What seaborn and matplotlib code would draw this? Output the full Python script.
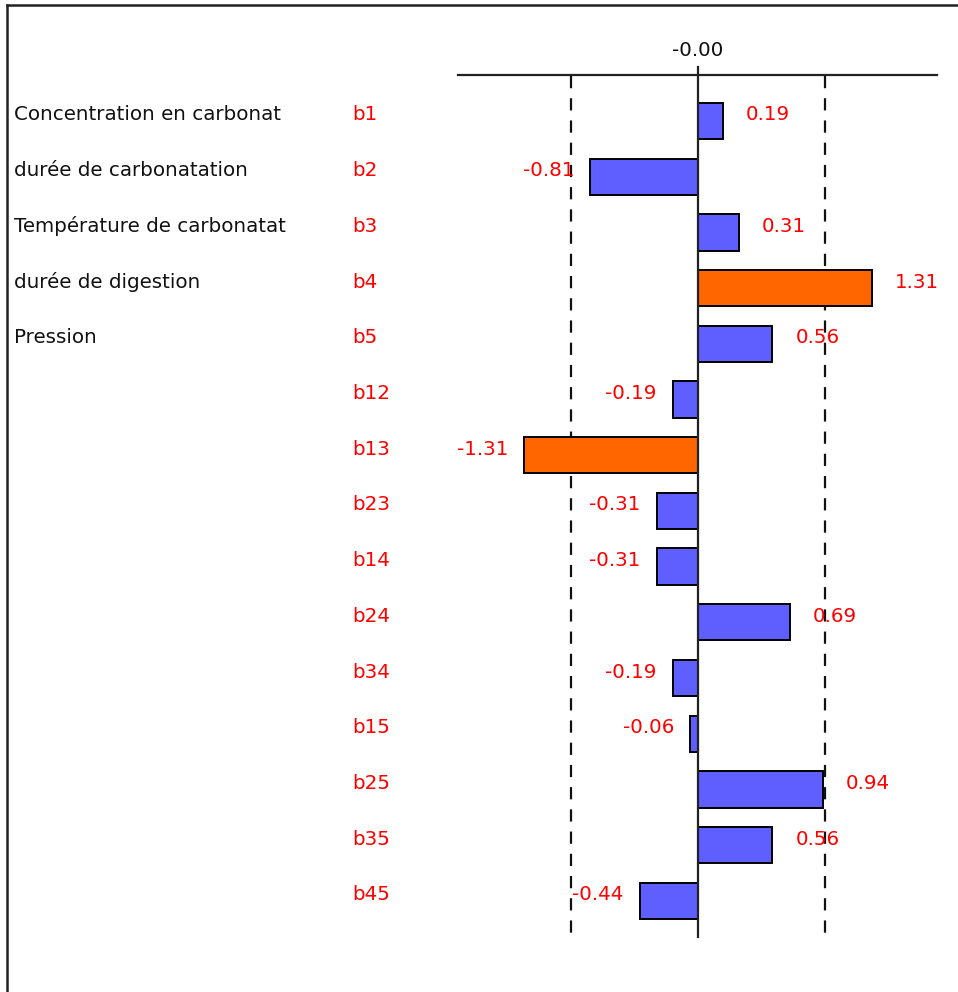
import matplotlib
matplotlib.use("Agg")
import matplotlib.pyplot as plt
from matplotlib.lines import Line2D
import seaborn as sns
import pandas as pd

# Coefficients of the fitted model
coef_names = ["b1", "b2", "b3", "b4", "b5", "b12", "b13", "b23", "b14",
              "b24", "b34", "b15", "b25", "b35", "b45"]
coef_values = [0.19, -0.81, 0.31, 1.31, 0.56, -0.19, -1.31, -0.31, -0.31,
               0.69, -0.19, -0.06, 0.94, 0.56, -0.44]
significant = [False, False, False, True, False, False, True, False, False,
               False, False, False, False, False, False]
factor_names = ["Concentration en carbonat", "durée de carbonatation",
                "Température de carbonatat", "durée de digestion", "Pression"]
threshold = 0.96
axis_label = "-0.00"

df = pd.DataFrame({"coef": coef_names, "value": coef_values,
                   "signif": ["oui" if s else "non" for s in significant]})

W, H = 958, 992
fig = plt.figure(figsize=(W / 100, H / 100), dpi=100)
ax = fig.add_axes([0, 0, 1, 1])

# pixel layout -> data coordinates
x0_px, unit_px = 698.0, 132.8
row0_px, row_px = 121.0, 55.7
text_dy = -6.0 / row_px   # labels sit slightly above the bar centres
def xd(px):
    return (px - x0_px) / unit_px
def yd(py):
    return (py - row0_px) / row_px

sns.barplot(data=df, x="value", y="coef", hue="signif", dodge=False,
            palette={"non": "#5F5FFF", "oui": "#FF6600"}, order=coef_names,
            width=0.65, saturation=1, edgecolor="black", linewidth=1.4,
            legend=False, ax=ax, zorder=3)

ax.set_xlim(xd(0), xd(W))
ax.set_ylim(yd(H), yd(0))
ax.axis("off")

font = dict(family="DejaVu Sans", fontsize=14.3)

# horizontal axis, zero line and threshold lines
ax.plot([-1.807, 1.80], [yd(75), yd(75)], color="#222222", lw=1.6, zorder=4)
ax.plot([0, 0], [yd(67), yd(937)], color="#222222", lw=1.6, zorder=4)
for t in (-threshold, threshold):
    ax.plot([t, t], [yd(76), yd(937)], color="#111111", lw=1.6,
            linestyle=(0, (5.5, 4.5)), zorder=2)
ax.text(0, yd(50), axis_label, ha="center", va="center", color="#111111", **font)

# row labels
for i, name in enumerate(coef_names):
    ax.text(xd(352), i + text_dy, name, ha="left", va="center",
            color="#FF0000", **font)
for i, name in enumerate(factor_names):
    ax.text(xd(14), i + text_dy, name, ha="left", va="center",
            color="#111111", **font)

# value labels
for i, v in enumerate(coef_values):
    if v >= 0:
        ax.text(v + 23 / unit_px, i + text_dy, f"{v:.2f}", ha="left",
                va="center", color="#FF0000", zorder=5, **font)
    else:
        ax.text(v - 16 / unit_px, i + text_dy, f"{v:.2f}", ha="right",
                va="center", color="#FF0000", zorder=5, **font)

# window frame (top and left edges)
fig.add_artist(Line2D([7 / W, 1], [1 - 5 / H, 1 - 5 / H], color="#222222",
                      lw=1.8, transform=fig.transFigure))
fig.add_artist(Line2D([7 / W, 7 / W], [0, 1 - 5 / H], color="#222222",
                      lw=1.8, transform=fig.transFigure))

fig.savefig("out.png", dpi=100, facecolor="white")
